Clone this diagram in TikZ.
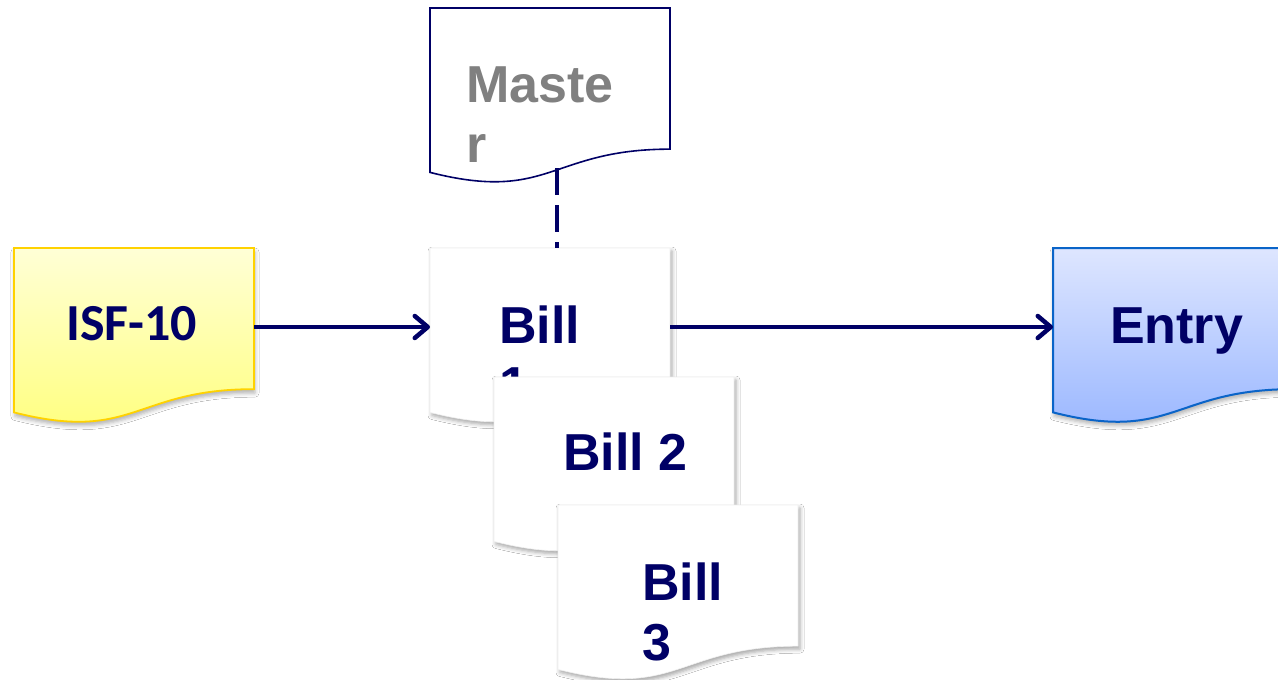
\documentclass[tikz,border=0pt]{standalone}
\usepackage{fontspec}
\usetikzlibrary{calc,arrows.meta,shadows.blur}
\newfontfamily\arialb{Liberation Sans}
\newfontfamily\calib{Carlito}
\definecolor{navy}{HTML}{000066}
\definecolor{mgray}{HTML}{808080}
\definecolor{isftop}{HTML}{FFFFD6}
\definecolor{isfbot}{HTML}{FFFF7A}
\definecolor{isfline}{HTML}{FFD200}
\definecolor{enttop}{HTML}{DEE6FF}
\definecolor{entbot}{HTML}{96B4FF}
\definecolor{entline}{HTML}{0A64C8}
\newcommand\docshape[2]{\path[#2] (#1.north west) -- (#1.north east) -- ($(#1.north east)!0.802!(#1.south east)$) .. controls ($(#1.north)!0.802!(#1.south)$) and ($(#1.north)!1.1075!(#1.south)$) .. ($(#1.north west)!0.934!(#1.south west)$) -- cycle;}
\tikzset{
  docbox/.style={minimum width=240pt, minimum height=176pt, inner sep=0pt, outer sep=0pt},
  billshape/.style={fill=white, draw=black!6, line width=0.6pt,
    blur shadow={shadow xshift=2pt, shadow yshift=-3pt, shadow blur radius=4pt, shadow opacity=35}},
  bigtxt/.style={font=\arialb\bfseries\fontsize{52}{60}\selectfont, inner sep=0pt, outer sep=0pt, align=left, anchor=base west},
  flow/.style={draw=navy, line width=4.5pt, -{Straight Barb[length=13pt,width=22pt,round]}},
  dashline/.style={draw=navy, line width=4pt, dash pattern=on 27pt off 10pt},
}
\begin{document}
\begin{tikzpicture}[x=1pt,y=1pt]
\useasboundingbox[fill=white] (0,0) rectangle (1278,-680);
% ISF-10
\node[docbox] (isf) at (134,-336) {};
\docshape{isf}{top color=isftop, bottom color=isfbot, draw=isfline, line width=1.8pt,
  blur shadow={shadow xshift=1pt, shadow yshift=-4pt, shadow blur radius=4pt, shadow opacity=30}}
\node[font=\calib\bfseries\fontsize{52}{60}\selectfont, text=navy, inner sep=0pt, anchor=base west] (isftext) at (66,-340) {ISF-10};
% Master
\node[docbox] (master) at (550,-96) {};
\docshape{master}{fill=white, draw=navy, line width=1.6pt}
\node[bigtxt, text=mgray] (mastertext) at (466,-162) {Maste\\r};
% Entry
\node[docbox] (entry) at (1173,-336) {};
\docshape{entry}{top color=enttop, bottom color=entbot, draw=entline, line width=2pt,
  blur shadow={shadow xshift=1pt, shadow yshift=-4pt, shadow blur radius=4pt, shadow opacity=30}}
\node[bigtxt, text=navy] (entrytext) at (1110,-343) {Entry};
% Bills
\node[docbox] (bill1) at (550,-336) {};
\docshape{bill1}{billshape}
\node[bigtxt, text=navy] (bill1text) at (499,-403) {Bill\\1};
\node[docbox] (bill2) at (614,-465) {};
\docshape{bill2}{billshape}
\node[bigtxt, text=navy] (bill2text) at (563,-470) {Bill 2};
\node[docbox] (bill3) at (678,-593) {};
\docshape{bill3}{billshape}
\node[bigtxt, text=navy] (bill3text) at (642,-660) {Bill\\3};
% connectors
\coordinate (mdash) at (557,-168);
\path[dashline] (mdash) -- (mdash |- bill1.north);
\path[flow] ([yshift=9pt]isf.east) -- ([yshift=9pt]bill1.west);
\path[flow] ([yshift=9pt]bill1.east) -- ([yshift=9pt]entry.west);
\end{tikzpicture}
\end{document}
